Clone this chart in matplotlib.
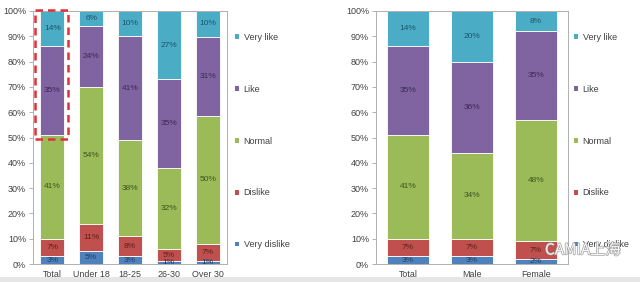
import numpy as np
import matplotlib
matplotlib.use("Agg")
import matplotlib.pyplot as plt
from matplotlib.patches import Patch, Rectangle
import matplotlib.patheffects as pe

plt.rcParams['font.family'] = ['Liberation Sans', 'DejaVu Sans']

# ---- data ----
series = ["Very dislike", "Dislike", "Normal", "Like", "Very like"]
colors = ["#4F81BD", "#C0504D", "#9BBB59", "#8064A2", "#4BACC6"]
label_colors = ["#1F3F66", "#5E1F1D", "#3F5320", "#3A2A52", "#1D5566"]

left_cats = ["Total", "Under 18", "18-25", "26-30", "Over 30"]
left_very_dislike = [3, 5, 3, 1, 1]
left_dislike = [7, 11, 8, 5, 7]
left_normal = [41, 54, 38, 32, 50]
left_like = [35, 24, 41, 35, 31]
left_very_like = [14, 6, 10, 27, 10]

right_cats = ["Total", "Male", "Female"]
right_very_dislike = [3, 3, 2]
right_dislike = [7, 7, 7]
right_normal = [41, 34, 48]
right_like = [35, 36, 35]
right_very_like = [14, 20, 8]

yticks = list(range(0, 101, 10))
ytick_labels = [f"{v}%" for v in yticks]

W, H = 640, 282
fig = plt.figure(figsize=(W / 100, H / 100), dpi=100)
fig.patch.set_facecolor("white")
# grey band at bottom of the screenshot
fig.patches.append(Rectangle((0, 0), 1, 5 / H, transform=fig.transFigure,
                             facecolor="#E6E6E6", edgecolor="none", zorder=-1))

def px_axes(x0, x1, y0, y1):
    return fig.add_axes([x0 / W, 1 - y1 / H, (x1 - x0) / W, (y1 - y0) / H])

def stacked(ax, cats, data, width):
    data = np.array(data, dtype=float)
    totals = data.sum(axis=0)
    norm = data / totals * 100
    x = np.arange(len(cats))
    bottom = np.zeros(len(cats))
    for i in range(len(series)):
        ax.bar(x, norm[i], width, bottom=bottom, color=colors[i],
               edgecolor="white", linewidth=0.6, zorder=2)
        for j in range(len(cats)):
            ax.text(x[j], bottom[j] + norm[i][j] / 2, f"{int(data[i][j])}%",
                    ha="center", va="center", fontsize=6,
                    color=label_colors[i], zorder=3)
        bottom += norm[i]
    ax.set_xlim(-0.5, len(cats) - 0.5)
    ax.set_ylim(0, 100)
    ax.set_xticks(x)
    ax.set_xticklabels(cats, fontsize=6.4, color="#404040")
    ax.set_yticks(yticks)
    ax.set_yticklabels(ytick_labels, fontsize=6.5, color="#404040")
    ax.tick_params(axis="x", length=0, pad=4)
    ax.tick_params(axis="y", length=3, width=0.6, color="#A6A6A6", pad=2)
    for s in ax.spines.values():
        s.set_color("#B0B0B0")
        s.set_linewidth(0.7)
    ax.set_facecolor("white")

def legend(x_px, y_center_px):
    handles = [Patch(facecolor=colors[i], edgecolor="none", label=series[i])
               for i in range(len(series) - 1, -1, -1)]
    fig.legend(handles=handles, loc="center left",
               bbox_to_anchor=(x_px / W, 1 - y_center_px / H),
               bbox_transform=fig.transFigure, frameon=False,
               fontsize=6.5, labelcolor="#404040",
               handlelength=0.45, handleheight=0.45, handletextpad=0.5,
               labelspacing=4.75, borderpad=0, borderaxespad=0)

axL = px_axes(33, 227, 11, 264)
stacked(axL, left_cats,
        [left_very_dislike, left_dislike, left_normal, left_like, left_very_like], 0.62)
axL.add_patch(Rectangle((-0.44, 49.5), 0.84, 51, fill=False, edgecolor="#E0303A",
                        linestyle=(0, (3, 2)), linewidth=1.8, clip_on=False, zorder=4))
legend(235, 141)

axR = px_axes(376, 568, 11, 264)
stacked(axR, right_cats,
        [right_very_dislike, right_dislike, right_normal, right_like, right_very_like], 0.65)
legend(574, 141)

# watermark
fig.text(545 / W, 1 - 250 / H, "CAMIA上海", fontsize=11, color="white",
         family=["Noto Sans CJK SC", "DejaVu Sans"], va="center", ha="left", alpha=0.9,
         path_effects=[pe.withStroke(linewidth=1.0, foreground="#9A9A9A")], zorder=10)

fig.savefig("out.png", dpi=100, facecolor="white")
